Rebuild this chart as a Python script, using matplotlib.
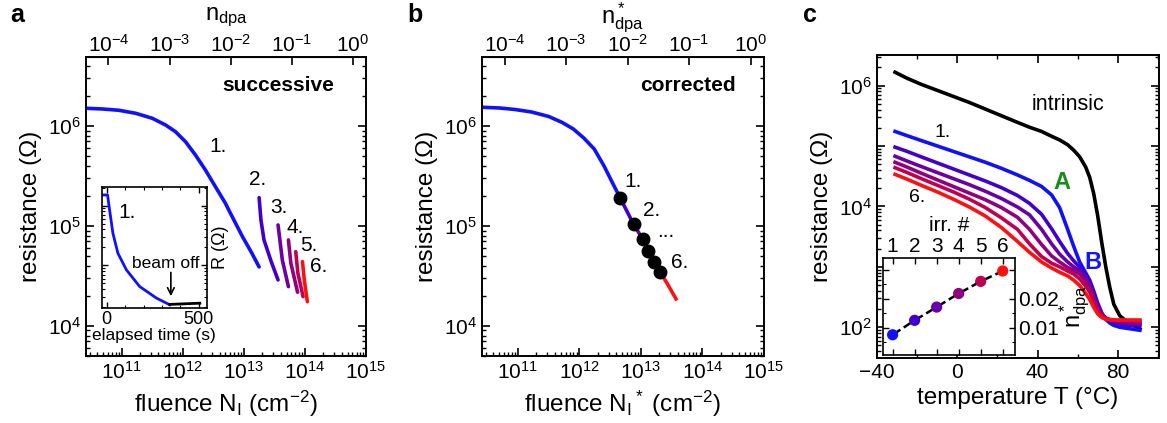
import numpy as np
import matplotlib
matplotlib.use('Agg')
import matplotlib.pyplot as plt
from matplotlib.ticker import LogLocator, NullFormatter, MultipleLocator, FuncFormatter, FixedLocator

plt.rcParams['font.family'] = ['Liberation Sans', 'DejaVu Sans']
plt.rcParams['mathtext.fontset'] = 'custom'
plt.rcParams['mathtext.rm'] = 'Liberation Sans'
plt.rcParams['mathtext.it'] = 'Liberation Sans:italic'
plt.rcParams['mathtext.bf'] = 'Liberation Sans:bold'

# ---- data (log10 values) ----
# panel a: successive irradiations, log10 fluence / log10 resistance
a1_logN = [10.41, 10.683, 10.954, 11.227, 11.50, 11.717, 11.88, 12.044, 12.207, 12.37,
           12.534, 12.698, 12.78, 12.98, 13.12, 13.25]
a1_logR = [6.177, 6.17, 6.157, 6.127, 6.077, 6.01, 5.943, 5.843, 5.71, 5.56,
           5.393, 5.227, 5.127, 4.89, 4.74, 4.59]
a2_logN = [13.25, 13.28, 13.33, 13.45, 13.56]
a2_logR = [5.283, 5.06, 4.86, 4.64, 4.46]
a3_logN = [13.56, 13.63, 13.73]
a3_logR = [5.01, 4.66, 4.393]
a4_logN = [13.73, 13.77, 13.88]
a4_logR = [4.86, 4.627, 4.337]
a5_logN = [13.85, 13.885, 13.97]
a5_logR = [4.743, 4.527, 4.293]
a6_logN = [13.96, 13.99, 14.04]
a6_logR = [4.643, 4.46, 4.243]

# inset a: elapsed time (s) / log10 R
ins_t = [-27, 5, 16, 34, 61, 107, 179, 270, 342]
ins_logR = [6.177, 6.177, 5.927, 5.538, 5.205, 4.927, 4.648, 4.455, 4.343]
off_t = [342, 505]
off_logR = [4.35, 4.37]

# panel b: corrected fluence
b_logN = [10.42, 10.7, 10.95, 11.22, 11.5, 11.72, 11.9, 12.07, 12.24, 12.4, 12.53, 12.66,
          12.88, 13.03, 13.11, 13.22, 13.31, 13.45, 13.57]
b_logR = [6.187, 6.18, 6.165, 6.14, 6.095, 6.035, 5.97, 5.88, 5.77, 5.60, 5.44, 5.283,
          5.017, 4.867, 4.753, 4.643, 4.543, 4.40, 4.27]
b_pts_logN = [12.66, 12.88, 13.03, 13.11, 13.22, 13.31]
b_pts_logR = [5.283, 5.017, 4.867, 4.753, 4.643, 4.543]

# panel c: temperature sweeps (T in deg C, log10 R)
T = [-31, -25, -18, -10, -2, 6, 14, 22, 30, 36, 42, 47, 51, 55, 58, 61, 64, 66, 68, 70, 72, 74, 76, 78, 81, 85, 91]
c_intr = [6.22, 6.12, 6.02, 5.92, 5.82, 5.72, 5.61, 5.50, 5.39, 5.31, 5.24, 5.16, 5.10, 5.02, 4.93, 4.82, 4.65,
          4.48, 4.21, 3.84, 3.40, 3.00, 2.66, 2.38, 2.19, 2.08, 1.97]
c_run1 = [5.24, 5.17, 5.09, 5.00, 4.91, 4.82, 4.73, 4.63, 4.52, 4.43, 4.33, 4.19, 3.98, 3.62, 3.34, 3.08, 2.90,
          2.78, 2.60, 2.40, 2.24, 2.13, 2.07, 2.03, 2.00, 1.98, 1.95]
c_run2 = [4.98, 4.91, 4.82, 4.72, 4.62, 4.52, 4.42, 4.31, 4.18, 4.05, 3.87, 3.63, 3.42, 3.22, 3.10, 2.99, 2.86,
          2.74, 2.55, 2.36, 2.22, 2.14, 2.10, 2.07, 2.05, 2.03, 2.02]
c_run3 = [4.83, 4.75, 4.66, 4.56, 4.46, 4.36, 4.25, 4.13, 3.99, 3.86, 3.62, 3.38, 3.21, 3.08, 3.00, 2.93, 2.82,
          2.71, 2.53, 2.34, 2.22, 2.15, 2.11, 2.09, 2.07, 2.06, 2.05]
c_run4 = [4.73, 4.65, 4.55, 4.44, 4.33, 4.22, 4.11, 3.98, 3.82, 3.62, 3.37, 3.18, 3.08, 2.99, 2.94, 2.88, 2.77,
          2.66, 2.49, 2.32, 2.21, 2.15, 2.12, 2.11, 2.10, 2.09, 2.08]
c_run5 = [4.64, 4.56, 4.46, 4.35, 4.24, 4.12, 3.98, 3.81, 3.62, 3.38, 3.17, 3.06, 3.00, 2.93, 2.88, 2.80, 2.68,
          2.58, 2.43, 2.28, 2.19, 2.15, 2.13, 2.12, 2.11, 2.11, 2.10]
c_run6 = [4.53, 4.45, 4.35, 4.24, 4.12, 3.99, 3.84, 3.65, 3.42, 3.24, 3.08, 2.98, 2.91, 2.85, 2.78, 2.69, 2.56,
          2.46, 2.33, 2.22, 2.16, 2.13, 2.125, 2.12, 2.12, 2.12, 2.12]

# inset c: damage per irradiation
irr = [1, 2, 3, 4, 5, 6]
ndpa = [0.0075, 0.0125, 0.0171, 0.0218, 0.026, 0.0296]

run_cols = ['#1010ff', '#4000d0', '#6a00a8', '#900080', '#c00050', '#ff1010']
k_dpa = 1.65e-15
lw = 2.6
fs_tick = 15
fs_lab = 17.5


def style(ax, top=False):
    ax.tick_params(which='both', direction='in', top=top, right=True, labelsize=fs_tick)
    ax.tick_params(which='major', length=6, width=1.2)
    ax.tick_params(which='minor', length=3, width=1)
    for s in ax.spines.values():
        s.set_linewidth(1.4)


def top_axis(ax):
    sec = ax.secondary_xaxis('top', functions=(lambda x: x * k_dpa, lambda x: x / k_dpa))
    sec.tick_params(which='both', direction='in', labelsize=fs_tick, pad=1)
    sec.tick_params(which='major', length=6, width=1.2)
    sec.tick_params(which='minor', length=3, width=1)
    sec.xaxis.set_major_locator(FixedLocator([1e-4, 1e-3, 1e-2, 1e-1, 1.0]))
    return sec


fig = plt.figure(figsize=(11.67, 4.23), dpi=100)

# ---------------- panel a ----------------
ax = fig.add_axes([0.0737, 0.1584, 0.2399, 0.7069])
segs = [(a1_logN, a1_logR), (a2_logN, a2_logR), (a3_logN, a3_logR),
        (a4_logN, a4_logR), (a5_logN, a5_logR), (a6_logN, a6_logR)]
for (ln, lr), c in zip(segs, run_cols):
    ax.plot(10**np.array(ln), 10**np.array(lr), color=c, lw=lw, solid_capstyle='round')
ax.set_xscale('log')
ax.set_yscale('log')
ax.set_xlim(2.6e10, 1e15)
ax.set_ylim(5e3, 4.9e6)
ax.xaxis.set_major_locator(LogLocator(base=10, numticks=20))
style(ax)
top_axis(ax)
fig.text(0.1937, 0.958, 'n$_\\mathrm{dpa}$', fontsize=17, ha='center', va='center')
ax.set_xlabel('fluence N$_\\mathrm{I}$ (cm$^{-2}$)', fontsize=fs_lab)
ax.set_ylabel('resistance (\u03a9)', fontsize=fs_lab)
ax.text(0.686, 0.903, 'successive', transform=ax.transAxes, fontsize=15,
        fontweight='bold', ha='center', va='center')
for lab, x, y in [('1.', 0.471, 0.699), ('2.', 0.614, 0.589), ('3.', 0.689, 0.498),
                  ('4.', 0.746, 0.431), ('5.', 0.796, 0.371), ('6.', 0.832, 0.298)]:
    ax.text(x, y, lab, transform=ax.transAxes, fontsize=15, ha='center', va='center')

# inset a
axi = fig.add_axes([0.0871, 0.2719, 0.09, 0.286])
axi.plot(ins_t, 10**np.array(ins_logR), color=run_cols[0], lw=2)
axi.plot(off_t, 10**np.array(off_logR), color='black', lw=2)
axi.set_yscale('log')
axi.set_xlim(-27, 542)
axi.set_ylim(1.95e4, 2.04e6)
axi.xaxis.set_major_locator(FixedLocator([0, 500]))
axi.xaxis.set_minor_locator(MultipleLocator(100))
axi.yaxis.set_major_formatter(NullFormatter())
axi.yaxis.set_minor_formatter(NullFormatter())
axi.tick_params(which='both', direction='in', top=True, right=True, labelsize=13, pad=2)
axi.tick_params(which='major', length=4, width=1)
axi.tick_params(which='minor', length=2, width=0.8)
for s in axi.spines.values():
    s.set_linewidth(1.2)
axi.set_xlabel('elapsed time (s)', fontsize=12.5, labelpad=0)
axi.yaxis.set_label_position('right')
axi.set_ylabel('R (\u03a9)', fontsize=13, labelpad=4)
axi.text(110, 10**5.89, '1.', fontsize=15, ha='center', va='center')
axi.text(322, 10**5.04, 'beam off', fontsize=12.5, ha='center', va='center')
axi.annotate('', xy=(348, 10**4.44), xytext=(348, 10**4.93),
             arrowprops=dict(arrowstyle='->', lw=1.2, color='black', mutation_scale=12))

# ---------------- panel b ----------------
bx = fig.add_axes([0.413, 0.1584, 0.2416, 0.7069])
bN = 10**np.array(b_logN)
bR = 10**np.array(b_logR)
bx.plot(bN[:12], bR[:12], color=run_cols[0], lw=lw)
for i in range(5):
    bx.plot(bN[11 + i:13 + i], bR[11 + i:13 + i], color=run_cols[i + 1], lw=lw)
bx.plot(bN[16:], bR[16:], color=run_cols[5], lw=lw)
bx.plot(10**np.array(b_pts_logN), 10**np.array(b_pts_logR), 'o', color='black', ms=9)
bx.set_xscale('log')
bx.set_yscale('log')
bx.set_xlim(2.6e10, 1e15)
bx.set_ylim(5e3, 4.9e6)
bx.xaxis.set_major_locator(LogLocator(base=10, numticks=20))
style(bx)
top_axis(bx)
fig.text(0.5338, 0.958, 'n$^*_\\mathrm{dpa}$', fontsize=17, ha='center', va='center')
bx.set_xlabel('fluence N$_\\mathrm{I}$$^*$ (cm$^{-2}$)', fontsize=fs_lab)
bx.set_ylabel('resistance (\u03a9)', fontsize=fs_lab)
bx.text(0.730, 0.903, 'corrected', transform=bx.transAxes, fontsize=15,
        fontweight='bold', ha='center', va='center')
for lab, x, y in [('1.', 0.535, 0.582), ('2.', 0.603, 0.488), ('...', 0.652, 0.418), ('6.', 0.702, 0.314)]:
    bx.text(x, y, lab, transform=bx.transAxes, fontsize=15, ha='center', va='center')

# ---------------- panel c ----------------
cx = fig.add_axes([0.7515, 0.1537, 0.2416, 0.7163])
cx.plot(T, 10**np.array(c_intr), color='black', lw=lw)
for run, c in zip([c_run1, c_run2, c_run3, c_run4, c_run5, c_run6], run_cols):
    cx.plot(T, 10**np.array(run), color=c, lw=lw)
cx.set_yscale('log')
cx.set_xlim(-40, 100.5)
cx.set_ylim(31, 3.2e6)
cx.yaxis.set_major_locator(LogLocator(base=10, numticks=20))


def even_decades(v, p):
    e = int(round(np.log10(v)))
    return '$\\mathdefault{10^{%d}}$' % e if e % 2 == 0 else ''


cx.yaxis.set_major_formatter(FuncFormatter(even_decades))
cx.xaxis.set_major_locator(MultipleLocator(40))
cx.xaxis.set_minor_locator(MultipleLocator(20))
style(cx, top=True)
cx.set_xlabel('temperature T (\u00b0C)', fontsize=fs_lab)
cx.set_ylabel('resistance (\u03a9)', fontsize=fs_lab)
cx.text(0.677, 0.835, 'intrinsic', transform=cx.transAxes, fontsize=15.5, ha='center', va='center')
cx.text(0.234, 0.743, '1.', transform=cx.transAxes, fontsize=14, ha='center', va='center')
cx.text(0.142, 0.531, '6.', transform=cx.transAxes, fontsize=14, ha='center', va='center')
cx.text(0.656, 0.578, 'A', transform=cx.transAxes, fontsize=17, fontweight='bold',
        color='#1a8c1a', ha='center', va='center')
cx.text(0.766, 0.314, 'B', transform=cx.transAxes, fontsize=17, fontweight='bold',
        color='#1414ff', ha='center', va='center')

# inset c
ci = fig.add_axes([0.7564, 0.1608, 0.1134, 0.2286])
ci.plot(irr, ndpa, '--', color='black', lw=1.8, zorder=1)
ci.scatter(irr, ndpa, c=run_cols, s=50, zorder=2)
ci.set_xlim(0.55, 6.56)
ci.set_ylim(0.0005, 0.034)
ci.xaxis.set_major_locator(FixedLocator(irr))
ci.yaxis.set_major_locator(FixedLocator([0.01, 0.02, 0.03]))
ci.yaxis.set_major_formatter(FuncFormatter(lambda v, p: '%.2f' % v if v < 0.025 else ''))
ci.yaxis.set_minor_locator(MultipleLocator(0.005))
ci.tick_params(which='both', direction='in', top=True, bottom=True, left=True, right=True,
               labeltop=True, labelbottom=False, labelleft=False, labelright=True,
               labelsize=15, pad=2)
ci.tick_params(which='major', length=4, width=1)
ci.tick_params(which='minor', length=2, width=0.8)
for s in ci.spines.values():
    s.set_linewidth(1.2)
ci.xaxis.set_label_position('top')
ci.set_xlabel('irr. #', fontsize=15, labelpad=4)
ci.yaxis.set_label_position('right')
ci.set_ylabel('n$^*_\\mathrm{dpa}$', fontsize=17, labelpad=-1)

# panel letters
fig.text(0.0146, 0.9645, 'a', fontsize=18, fontweight='bold', ha='center', va='center')
fig.text(0.3556, 0.9645, 'b', fontsize=18, fontweight='bold', ha='center', va='center')
fig.text(0.694, 0.9645, 'c', fontsize=18, fontweight='bold', ha='center', va='center')

fig.savefig('out.png', dpi=100)
